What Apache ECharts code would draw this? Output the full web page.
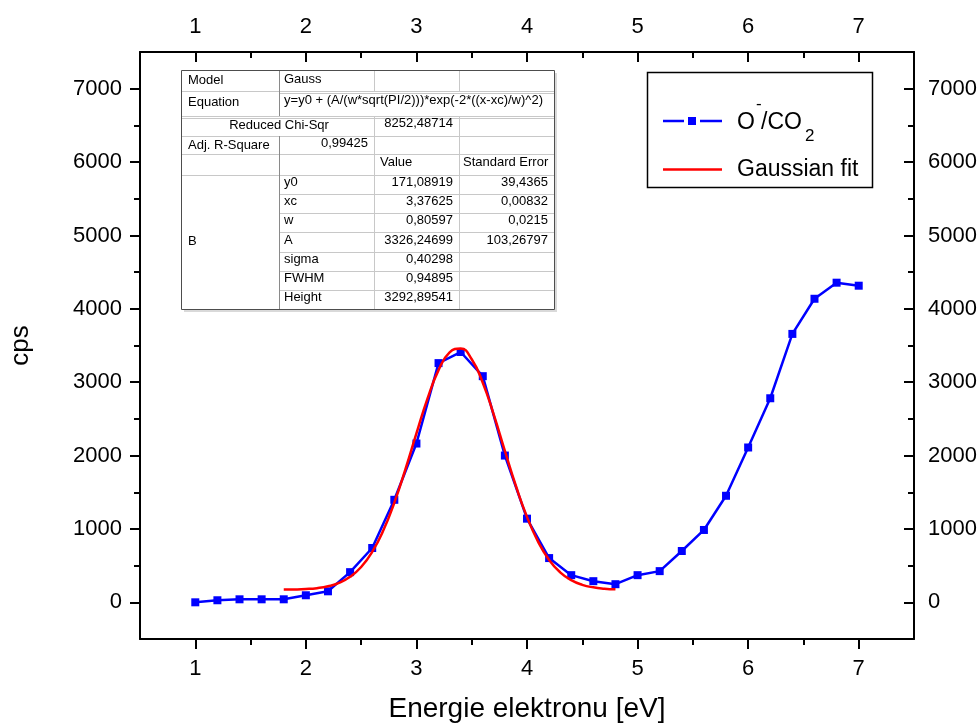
<!DOCTYPE html>
<html>
<head>
<meta charset="utf-8">
<title>O-/CO2 electron attachment spectrum</title>
<script src="https://cdn.jsdelivr.net/npm/echarts@6/dist/echarts.min.js"></script>
<style>
  html, body { margin: 0; padding: 0; background: #ffffff; }
  #chart { width: 980px; height: 724px; }
</style>
</head>
<body>
<div id="chart"></div>
<script>
// Measured ion yield (cps) versus electron energy (eV)
const energy = [1.0, 1.2, 1.4, 1.6, 1.8, 2.0, 2.2, 2.4, 2.6, 2.8, 3.0, 3.2, 3.4, 3.6, 3.8,
                4.0, 4.2, 4.4, 4.6, 4.8, 5.0, 5.2, 5.4, 5.6, 5.8, 6.0, 6.2, 6.4, 6.6, 6.8, 7.0];
const counts = [0, 28, 41, 41, 41, 96, 150, 411, 740, 1397, 2164, 3260, 3411, 3082, 2000,
                1140, 603, 370, 288, 247, 370, 425, 699, 986, 1452, 2110, 2781, 3658, 4137, 4356, 4315];

// Gaussian fit curve, sampled every 0.1 eV
const fitEnergy = [1.8, 1.9, 2.0, 2.1, 2.2, 2.3, 2.4, 2.5, 2.6, 2.7, 2.8, 2.9, 3.0, 3.1, 3.2, 3.3,
                   3.4, 3.5, 3.6, 3.7, 3.8, 3.9, 4.0, 4.1, 4.2, 4.3, 4.4, 4.5, 4.6, 4.7, 4.8];
const fitCounts = [173, 175, 181, 193, 218, 264, 347, 481, 687, 978, 1357, 1810, 2302, 2776, 3164, 3406,
                   3458, 3312, 2993, 2554, 2064, 1585, 1164, 827, 578, 409, 302, 238, 204, 186, 177];

// Axis tick labels
const xTicks = [1, 2, 3, 4, 5, 6, 7];
const yTicks = [0, 1000, 2000, 3000, 4000, 5000, 6000, 7000];

// Fit report text
const fitModel = 'Gauss';
const fitEquation = 'y=y0 + (A/(w*sqrt(PI/2)))*exp(-2*((x-xc)/w)^2)';
const chiSqr = '8252,48714';
const adjRSquare = '0,99425';
const fitParamNames = ['y0', 'xc', 'w', 'A', 'sigma', 'FWHM', 'Height'];
const fitParamValues = ['171,08919', '3,37625', '0,80597', '3326,24699', '0,40298', '0,94895', '3292,89541'];
const fitParamErrors = ['39,4365', '0,00832', '0,0215', '103,26797', '', '', ''];

const FONT = '"Liberation Sans", Arial, Helvetica, sans-serif';

// minor tick positions halfway between labelled ticks
const xMinor = xTicks.slice(0, -1).map((v, i) => (v + xTicks[i + 1]) / 2);
const yMinor = yTicks.slice(0, -1).map((v, i) => (v + yTicks[i + 1]) / 2);

const chart = echarts.init(document.getElementById('chart'), null, { renderer: 'canvas' });

const axisLineStyle = { color: '#000', width: 2 };
const labelStyle = { color: '#000', fontSize: 22, fontFamily: FONT, formatter: v => String(v) };

function xAxisDef(position, minor) {
  const inside = position === 'top';
  return {
    type: 'value', position, min: 0.5, max: 7.5,
    axisLine: { show: !minor, onZero: false, lineStyle: axisLineStyle },
    axisTick: { show: true, inside, customValues: minor ? xMinor : xTicks,
                length: minor ? 6 : 10, lineStyle: { color: '#000', width: 2 } },
    axisLabel: minor ? { show: false } :
      Object.assign({ show: true, customValues: xTicks, margin: inside ? 14 : 19 }, labelStyle),
    splitLine: { show: false },
    minorTick: { show: false }
  };
}

function yAxisDef(position, minor) {
  const inside = position === 'right';
  return {
    type: 'value', position, min: -500, max: 7500,
    axisLine: { show: !minor, onZero: false, lineStyle: axisLineStyle },
    axisTick: { show: true, inside, customValues: minor ? yMinor : yTicks,
                length: minor ? 6 : 10, lineStyle: { color: '#000', width: 2 } },
    axisLabel: minor ? { show: false } :
      Object.assign({ show: true, customValues: yTicks, margin: inside ? 14 : 18 }, labelStyle),
    splitLine: { show: false },
    minorTick: { show: false }
  };
}

const xAxes = [xAxisDef('bottom', false), xAxisDef('top', false), xAxisDef('bottom', true), xAxisDef('top', true)];
Object.assign(xAxes[0], {
  name: 'Energie elektronu [eV]', nameLocation: 'middle', nameGap: 56,
  nameTextStyle: { color: '#000', fontSize: 28, fontFamily: FONT }
});
const yAxes = [yAxisDef('left', false), yAxisDef('right', false), yAxisDef('left', true), yAxisDef('right', true)];
Object.assign(yAxes[0], {
  name: 'cps', nameLocation: 'middle', nameGap: 106,
  nameTextStyle: { color: '#000', fontSize: 26, fontFamily: FONT }
});

// ---- fit report table ----
const cols = [181, 279, 374, 459, 554];
const headRows = [70, 91, 116, 136, 154, 175];
const tableBottom = 309;
const dataRowH = (tableBottom - 175) / fitParamNames.length;
const gridColor = '#c8c8c8';

function text(x, y, s, align, size, color) {
  return {
    type: 'text', z: 60,
    style: { x, y, text: s, font: size + 'px ' + FONT, fill: color || '#000',
             align, verticalAlign: 'middle' }
  };
}
function line(x1, y1, x2, y2, color, w) {
  return {
    type: 'line', z: 55,
    shape: { x1, y1, x2, y2 },
    style: { stroke: color, lineWidth: w || 1 }
  };
}

const table = [];
// drop shadow and white background
table.push({ type: 'rect', z: 50, shape: { x: cols[0] + 3, y: headRows[0] + 3, width: cols[4] - cols[0], height: tableBottom - headRows[0] },
             style: { fill: '#d9d9d9' } });
table.push({ type: 'rect', z: 51, shape: { x: cols[0], y: headRows[0], width: cols[4] - cols[0], height: tableBottom - headRows[0] },
             style: { fill: '#fff' } });
// horizontal lines across the whole table
[91, 116, 136, 154, 175].forEach(y => table.push(line(cols[0], y + 0.5, cols[4], y + 0.5, gridColor)));
table.push(line(cols[1], 93.5, cols[4], 93.5, gridColor));
table.push(line(cols[0], 118.5, cols[4], 118.5, gridColor));
// horizontal lines in parameter rows (column B is merged)
for (let i = 1; i < fitParamNames.length; i++) {
  const y = Math.round(175 + i * dataRowH) + 0.5;
  table.push(line(cols[1], y, cols[4], y, gridColor));
}
// vertical lines
table.push(line(cols[1] + 0.5, 70, cols[1] + 0.5, 116, '#8a8a8a'));
table.push(line(cols[1] + 0.5, 136, cols[1] + 0.5, tableBottom, '#8a8a8a'));
table.push(line(cols[2] + 0.5, 70, cols[2] + 0.5, 91, gridColor));
table.push(line(cols[2] + 0.5, 116, cols[2] + 0.5, tableBottom, gridColor));
table.push(line(cols[3] + 0.5, 70, cols[3] + 0.5, 91, gridColor));
table.push(line(cols[3] + 0.5, 116, cols[3] + 0.5, tableBottom, gridColor));
// outer border
table.push({ type: 'rect', z: 58, shape: { x: cols[0] + 0.5, y: headRows[0] + 0.5, width: cols[4] - cols[0], height: tableBottom - headRows[0] },
             style: { fill: 'none', stroke: '#4d4d4d', lineWidth: 1 } });

// header texts
table.push(text(188, 80, 'Model', 'left', 13));
table.push(text(284, 79, fitModel, 'left', 13));
table.push(text(188, 102, 'Equation', 'left', 13));
table.push(text(543, 100, fitEquation, 'right', 13));
table.push(text(279, 125, 'Reduced Chi-Sqr', 'center', 13));
table.push(text(453, 123, chiSqr, 'right', 13));
table.push(text(188, 145, 'Adj. R-Square', 'left', 13));
table.push(text(368, 143, adjRSquare, 'right', 13));
table.push(text(380, 162, 'Value', 'left', 13));
table.push(text(463, 162, 'Standard Error', 'left', 13));
table.push(text(188, 241, 'B', 'left', 13));
fitParamNames.forEach((name, i) => {
  const y = 175 + (i + 0.5) * dataRowH - 2;
  table.push(text(284, y, name, 'left', 13));
  table.push(text(453, y, fitParamValues[i], 'right', 13));
  if (fitParamErrors[i]) table.push(text(548, y, fitParamErrors[i], 'right', 13));
});

// ---- legend box ----
const legend = [
  { type: 'rect', z: 50, shape: { x: 647.5, y: 72.5, width: 225, height: 115 },
    style: { fill: '#fff', stroke: '#000', lineWidth: 1.5 } },
  line(663, 121, 684, 121, '#0000ff', 2.5),
  line(700, 121, 722, 121, '#0000ff', 2.5),
  { type: 'rect', z: 56, shape: { x: 688, y: 117, width: 8, height: 8 }, style: { fill: '#0000ff' } },
  text(737, 123, 'O', 'left', 23),
  text(756, 104, '-', 'left', 17),
  text(761, 123, '/CO', 'left', 23),
  text(805, 136, '2', 'left', 17),
  line(663, 169.5, 722, 169.5, '#ff0000', 2.5),
  text(737, 170, 'Gaussian fit', 'left', 23)
];

const option = {
  animation: false,
  backgroundColor: '#fff',
  textStyle: { fontFamily: FONT },
  grid: { left: 140, right: 66, top: 52, bottom: 85, containLabel: false, outerBoundsMode: 'none' },
  xAxis: xAxes,
  yAxis: yAxes,
  series: [
    {
      name: 'O-/CO2',
      type: 'line',
      xAxisIndex: 0, yAxisIndex: 0,
      data: energy.map((e, i) => [e, counts[i]]),
      symbol: 'rect', symbolSize: 8,
      lineStyle: { color: '#0000ff', width: 2.5 },
      itemStyle: { color: '#0000ff' },
      z: 2
    },
    {
      name: 'Gaussian fit',
      type: 'line',
      xAxisIndex: 0, yAxisIndex: 0,
      data: fitEnergy.map((e, i) => [e, fitCounts[i]]),
      smooth: true,
      showSymbol: false, symbol: 'none',
      lineStyle: { color: '#ff0000', width: 2.5 },
      z: 3
    }
  ],
  graphic: { elements: table.concat(legend) }
};

chart.setOption(option);
</script>
</body>
</html>
